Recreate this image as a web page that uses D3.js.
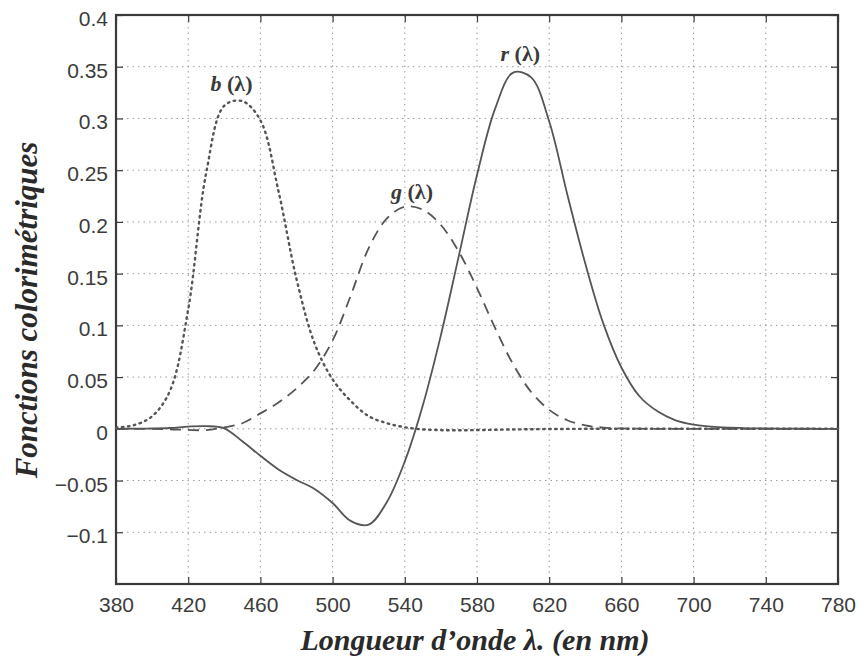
<!DOCTYPE html>
<html>
<head>
<meta charset="utf-8">
<script src="https://cdn.jsdelivr.net/npm/d3@7"></script>
<style>
  body { margin: 0; background: #fff; }
</style>
</head>
<body>
<div class="canvas"></div>
<script>
// wavelengths (nm) and colour matching functions
const wavelengths = [380, 390, 400, 410, 420, 430, 440, 450, 460, 470, 480, 490, 500, 510, 520, 530, 540, 550, 560, 570, 580, 590, 600, 610, 620, 630, 640, 650, 660, 670, 680, 690, 700, 710, 720, 730, 740, 750, 760, 770, 780];
const rValues = [0.00003, 0.0001, 0.0003, 0.0008, 0.0021, 0.0026, 0.0005, -0.0121, -0.0261, -0.0393, -0.0494, -0.0581, -0.0717, -0.089, -0.0926, -0.071, -0.0315, 0.0228, 0.0906, 0.1677, 0.2453, 0.3093, 0.3443, 0.3397, 0.2971, 0.2268, 0.1597, 0.1017, 0.0593, 0.0315, 0.0169, 0.0082, 0.0041, 0.0021, 0.0011, 0.0005, 0.0003, 0.0001, 0.0001, 0.0, 0.0];
const gValues = [0.0, 0.0, -0.0001, -0.0004, -0.0011, -0.0012, 0.0015, 0.0054, 0.0149, 0.0254, 0.0391, 0.0569, 0.0854, 0.1286, 0.1747, 0.2032, 0.2147, 0.2118, 0.197, 0.1709, 0.1361, 0.0975, 0.0625, 0.0356, 0.0183, 0.0083, 0.0033, 0.0012, 0.0004, 0.0001, 0.0, 0.0, 0.0, 0.0, 0.0, 0.0, 0.0, 0.0, 0.0, 0.0, 0.0];
const bValues = [0.0012, 0.0036, 0.0121, 0.0371, 0.1154, 0.2477, 0.3123, 0.3167, 0.2982, 0.2299, 0.1449, 0.0826, 0.0478, 0.027, 0.0122, 0.0055, 0.0015, -0.0006, -0.0013, -0.0014, -0.0012, -0.0009, -0.0006, -0.0004, -0.0002, -0.0001, 0.0, 0.0, 0.0, 0.0, 0.0, 0.0, 0.0, 0.0, 0.0, 0.0, 0.0, 0.0, 0.0, 0.0, 0.0];

const xTicks = [380, 420, 460, 500, 540, 580, 620, 660, 700, 740, 780];
const yTicks = [-0.1, -0.05, 0, 0.05, 0.1, 0.15, 0.2, 0.25, 0.3, 0.35, 0.4];

const curveLabels = [
  { name: 'b', x: 444, y: 0.327 },
  { name: 'g', x: 544, y: 0.222 },
  { name: 'r', x: 604, y: 0.356 }
];

const dims = { width: 858, height: 659 };
const margin = { left: 116, right: 20, top: 15, bottom: 75 };
const ink = '#3a3a3a';

const svg = d3
  .select('.canvas')
  .append('svg')
  .attr('width', dims.width)
  .attr('height', dims.height);

const x = d3.scaleLinear().domain([380, 780]).range([margin.left, dims.width - margin.right]);
const y = d3.scaleLinear().domain([-0.15, 0.4]).range([dims.height - margin.bottom, margin.top]);

const plotW = x.range()[1] - x.range()[0];
const plotH = y.range()[0] - y.range()[1];

// grid
const grid = svg.append('g').attr('stroke', '#9a9a9a').attr('stroke-width', 1).attr('stroke-dasharray', '1.5,4');
grid.selectAll('.vg')
  .data(xTicks.slice(1, -1))
  .enter()
  .append('line')
  .attr('x1', (d) => x(d)).attr('x2', (d) => x(d))
  .attr('y1', y.range()[0]).attr('y2', y.range()[1]);
grid.selectAll('.hg')
  .data(yTicks.slice(0, -1))
  .enter()
  .append('line')
  .attr('x1', x.range()[0]).attr('x2', x.range()[1])
  .attr('y1', (d) => y(d)).attr('y2', (d) => y(d));

// axes
const fmtY = (d) => (d < 0 ? '\u2212' : '') + String(Math.abs(+d.toFixed(2)));

const xAxis = svg.append('g')
  .attr('transform', `translate(0, ${y.range()[0]})`)
  .call(d3.axisBottom(x).tickValues(xTicks).tickSizeInner(-7).tickSizeOuter(0).tickPadding(13));
const xAxisTop = svg.append('g')
  .attr('transform', `translate(0, ${y.range()[1]})`)
  .call(d3.axisTop(x).tickValues(xTicks).tickSizeInner(-7).tickSizeOuter(0).tickFormat(''));
const yAxis = svg.append('g')
  .attr('transform', `translate(${x.range()[0]}, 0)`)
  .call(d3.axisLeft(y).tickValues(yTicks).tickFormat(fmtY).tickSizeInner(-7).tickSizeOuter(0).tickPadding(8));
const yAxisRight = svg.append('g')
  .attr('transform', `translate(${x.range()[1]}, 0)`)
  .call(d3.axisRight(y).tickValues(yTicks).tickSizeInner(-7).tickSizeOuter(0).tickFormat(''));

[xAxis, xAxisTop, yAxis, yAxisRight].forEach((a) => {
  a.select('.domain').remove();
  a.selectAll('.tick line').attr('stroke', ink).attr('stroke-width', 1.2);
  a.selectAll('text')
    .attr('fill', '#3c3c3c')
    .style('font-family', '"Liberation Sans", Arial, sans-serif')
    .style('font-size', '21px');
});
yAxis.selectAll('text').attr('dy', '0.5em');

svg.append('rect')
  .attr('x', x.range()[0]).attr('y', y.range()[1])
  .attr('width', plotW).attr('height', plotH)
  .attr('fill', 'none').attr('stroke', ink).attr('stroke-width', 2.2);

// curves
const series = [
  { values: bValues, dash: '1.5,4.5' },
  { values: gValues, dash: '11,7' },
  { values: rValues, dash: null }
];

const line = d3.line()
  .x((d) => x(d[0]))
  .y((d) => y(d[1]))
  .curve(d3.curveCatmullRom.alpha(0.5));

svg.append('g')
  .selectAll('path')
  .data(series)
  .enter()
  .append('path')
  .attr('d', (s) => line(wavelengths.map((w, i) => [w, s.values[i]])))
  .attr('fill', 'none')
  .attr('stroke', '#555')
  .attr('stroke-width', (s) => (s.dash && s.dash.startsWith('1.5') ? 2.4 : 1.8))
  .attr('stroke-linecap', (s) => (s.dash && s.dash.startsWith('1.5') ? 'round' : 'butt'))
  .attr('stroke-dasharray', (s) => s.dash);

// curve labels
const labels = svg.append('g')
  .selectAll('text')
  .data(curveLabels)
  .enter()
  .append('text')
  .attr('x', (d) => x(d.x))
  .attr('y', (d) => y(d.y))
  .attr('text-anchor', 'middle')
  .attr('fill', '#3a3a3a')
  .style('font-family', '"Liberation Serif", "Times New Roman", serif')
  .style('font-weight', 'bold')
  .style('font-size', '22px');
labels.append('tspan').style('font-style', 'italic').text((d) => d.name);
labels.append('tspan').text(' (\u03bb)');

// axis titles
const titleFont = '"Liberation Serif", "Times New Roman", serif';
svg.append('text')
  .attr('x', 475)
  .attr('y', 650)
  .attr('text-anchor', 'middle')
  .attr('fill', '#2a2a2a')
  .style('font-family', titleFont)
  .style('font-weight', 'bold')
  .style('font-style', 'italic')
  .style('font-size', '30px')
  .text('Longueur d\u2019onde \u03bb. (en nm)');

svg.append('text')
  .attr('transform', `translate(37, 310) rotate(-90)`)
  .attr('text-anchor', 'middle')
  .attr('fill', '#2a2a2a')
  .style('font-family', titleFont)
  .style('font-weight', 'bold')
  .style('font-style', 'italic')
  .style('font-size', '31px')
  .text('Fonctions colorimétriques');
</script>
</body>
</html>
